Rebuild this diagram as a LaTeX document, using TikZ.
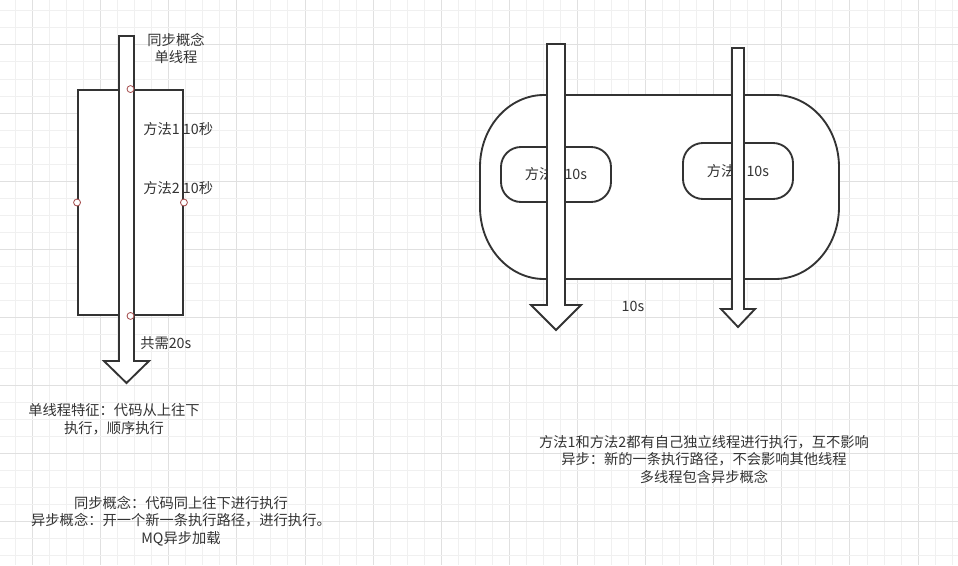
\documentclass[tikz,border=0pt]{standalone}
\usepackage{fontspec}
\setmainfont{Noto Sans CJK SC}
\usetikzlibrary{positioning}
\definecolor{ink}{HTML}{333333}
\definecolor{port}{HTML}{A34A4A}
\definecolor{gridminor}{HTML}{F0F0F0}
\definecolor{gridmajor}{HTML}{E0E0E0}
% block arrow: centre x, top, shaft half width, head base, head half width, tip
\newcommand{\threadarrow}[6]{%
  \draw[shapeline] (#1-#3,#2) -- (#1+#3,#2) -- (#1+#3,#4) -- (#1+#5,#4)
    -- (#1,#6) -- (#1-#5,#4) -- (#1-#3,#4) -- cycle;}

\begin{document}
\begin{tikzpicture}[x=0.75pt, y=-0.75pt,
  every node/.style={font=\fontsize{10.7}{13.2}\selectfont, text=ink, inner sep=0pt},
  shapeline/.style={draw=ink, line width=1.4pt, fill=white, line join=miter},
  box/.style={shapeline, rectangle},
  methodbox/.style={shapeline, rectangle, rounded corners=15pt,
    minimum width=110*0.75pt, minimum height=55*0.75pt},
  port/.style={circle, draw=port, fill=white, line width=0.6pt, minimum size=5.2pt},
  note/.style={align=center}]
  \useasboundingbox (0,0) rectangle (958,565);
  \fill[white] (0,0) rectangle (958,565);
  % grid
  \foreach \i in {0,...,56} {
    \pgfmathsetmacro{\gx}{15.5+17.03*\i}
    \pgfmathtruncatemacro{\m}{mod(\i,4)}
    \ifnum\m=1 \draw[gridmajor, line width=0.75pt] (\gx,0) -- (\gx,565);
    \else \draw[gridminor, line width=0.75pt] (\gx,0) -- (\gx,565); \fi
  }
  \foreach \i in {0,...,33} {
    \pgfmathsetmacro{\gy}{10.9+17.03*\i}
    \pgfmathtruncatemacro{\m}{mod(\i,4)}
    \ifnum\m=2 \draw[gridmajor, line width=0.75pt] (0,\gy) -- (958,\gy);
    \else \draw[gridminor, line width=0.75pt] (0,\gy) -- (958,\gy); \fi
  }

  % single thread
  \node[box, minimum width=105*0.75pt, minimum height=225*0.75pt] (single) at (130.5,202.5) {};
  \threadarrow{126.5}{36}{7.5}{361}{22.5}{383}
  \foreach \a in {north, west, east, south}
    \node[port] (port-\a) at (single.\a) {};
  \node[note] (synctitle) at (176,48.5) {同步概念\\单线程};
  \node[anchor=west] (method1) at (143,129) {方法1 10秒};
  \node[anchor=west] (method2) at (143,188) {方法2 10秒};
  \node[anchor=west] (total) at (140,343) {共需20s};
  \node[note] (singlenote) at (114,419) {单线程特征：代码从上往下\\执行，顺序执行};
  \node[note] (syncnote) at (181,521) {同步概念：代码同上往下进行执行\\异步概念：开一个新一条执行路径，进行执行。\\MQ异步加载};

  % multi thread
  \draw[shapeline] (544,95) -- (775,95) arc (-90:0:64 and 72) -- (839,207)
    arc (0:90:64 and 72) -- (544,279) arc (90:180:64 and 72) -- (480,167)
    arc (180:270:64 and 72) -- cycle;
  \node[methodbox] (async1) at (556,174.5) {方法1 10s};
  \node[methodbox, minimum height=56*0.75pt] (async2) at (738,171) {方法2 10s};
  \threadarrow{556}{44}{9}{305}{25}{330}
  \threadarrow{738}{48}{6}{309}{17}{327}
  \node (each) at (633,306) {10s};
  \node[note] (asyncnote) at (704,459.5) {方法1和方法2都有自己独立线程进行执行，互不影响\\异步：新的一条执行路径，不会影响其他线程\\多线程包含异步概念};
\end{tikzpicture}
\end{document}
